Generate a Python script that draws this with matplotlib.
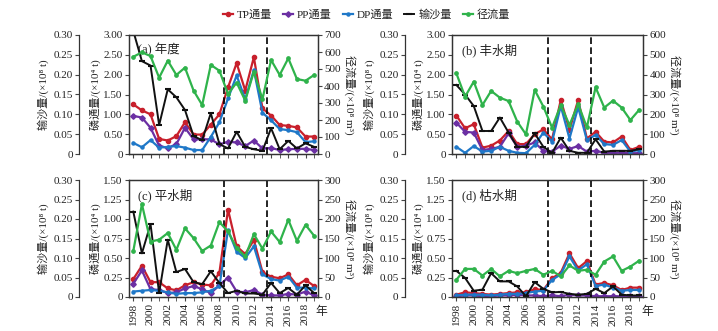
import numpy as np
import matplotlib.pyplot as plt
from matplotlib.ticker import MultipleLocator, FuncFormatter

plt.rcParams['font.family'] = ['Liberation Serif', 'Noto Sans CJK SC', 'DejaVu Serif']
plt.rcParams['axes.unicode_minus'] = False

years = np.arange(1998, 2020)

# 年度
tp_a = [1.25, 1.10, 1.00, 0.38, 0.34, 0.45, 0.80, 0.49, 0.49, 0.74, 1.00, 1.68, 2.29, 1.60, 2.44, 1.15, 0.97, 0.73, 0.71, 0.67, 0.44, 0.44]
pp_a = [0.96, 0.92, 0.66, 0.21, 0.15, 0.25, 0.66, 0.37, 0.37, 0.37, 0.24, 0.31, 0.29, 0.20, 0.34, 0.14, 0.15, 0.10, 0.12, 0.13, 0.13, 0.10]
dp_a = [0.28, 0.17, 0.35, 0.16, 0.18, 0.20, 0.16, 0.10, 0.10, 0.43, 0.80, 1.40, 1.98, 1.38, 2.12, 1.04, 0.85, 0.63, 0.60, 0.55, 0.30, 0.32]
sed_a = [0.310, 0.234, 0.223, 0.073, 0.163, 0.143, 0.111, 0.045, 0.035, 0.103, 0.025, 0.014, 0.056, 0.018, 0.012, 0.008, 0.065, 0.012, 0.033, 0.014, 0.027, 0.018]
q_a = [572, 598, 576, 449, 549, 465, 508, 373, 288, 524, 490, 353, 420, 314, 484, 322, 553, 465, 563, 441, 431, 465]

# 丰水期
tp_b = [0.97, 0.65, 0.75, 0.16, 0.21, 0.34, 0.58, 0.25, 0.25, 0.50, 0.62, 0.37, 1.36, 0.61, 1.36, 0.39, 0.56, 0.31, 0.29, 0.44, 0.10, 0.18]
pp_b = [0.79, 0.56, 0.54, 0.10, 0.13, 0.18, 0.52, 0.18, 0.21, 0.29, 0.08, 0.06, 0.21, 0.13, 0.20, 0.06, 0.08, 0.03, 0.03, 0.03, 0.02, 0.02]
dp_b = [0.18, 0.03, 0.20, 0.06, 0.08, 0.18, 0.08, 0.03, 0.02, 0.23, 0.54, 0.31, 1.21, 0.39, 1.18, 0.35, 0.48, 0.25, 0.23, 0.35, 0.06, 0.10]
sed_b = [0.174, 0.150, 0.121, 0.058, 0.058, 0.092, 0.054, 0.018, 0.018, 0.052, 0.018, 0.003, 0.041, 0.008, 0.003, 0.003, 0.037, 0.006, 0.008, 0.008, 0.008, 0.012]
q_b = [407, 289, 365, 247, 318, 284, 267, 163, 99, 323, 239, 133, 247, 146, 252, 134, 336, 234, 269, 234, 171, 222]

# 平水期
tp_c = [0.23, 0.40, 0.19, 0.19, 0.11, 0.085, 0.15, 0.19, 0.16, 0.15, 0.31, 1.12, 0.65, 0.55, 0.73, 0.32, 0.26, 0.24, 0.29, 0.15, 0.22, 0.14]
pp_c = [0.17, 0.34, 0.10, 0.09, 0.05, 0.06, 0.11, 0.14, 0.10, 0.05, 0.15, 0.25, 0.07, 0.06, 0.09, 0.03, 0.02, 0.02, 0.04, 0.03, 0.07, 0.02]
dp_c = [0.07, 0.08, 0.09, 0.08, 0.06, 0.04, 0.05, 0.05, 0.06, 0.08, 0.14, 0.86, 0.58, 0.50, 0.65, 0.29, 0.23, 0.21, 0.26, 0.12, 0.12, 0.11]
sed_c = [0.219, 0.112, 0.187, 0.010, 0.147, 0.064, 0.072, 0.038, 0.033, 0.066, 0.036, 0.010, 0.016, 0.009, 0.009, 0.006, 0.036, 0.010, 0.023, 0.006, 0.030, 0.010]
q_c = [118, 238, 142, 147, 164, 121, 176, 151, 118, 132, 192, 168, 125, 104, 161, 124, 168, 141, 198, 144, 185, 157]

# 枯水期
tp_d = [0.03, 0.06, 0.05, 0.04, 0.03, 0.04, 0.05, 0.06, 0.06, 0.10, 0.09, 0.24, 0.31, 0.56, 0.37, 0.46, 0.16, 0.18, 0.15, 0.09, 0.12, 0.12]
pp_d = [0.01, 0.02, 0.02, 0.01, 0.01, 0.02, 0.02, 0.03, 0.02, 0.02, 0.01, 0.02, 0.01, 0.03, 0.02, 0.02, 0.01, 0.01, 0.01, 0.01, 0.01, 0.01]
dp_d = [0.02, 0.03, 0.03, 0.03, 0.02, 0.03, 0.04, 0.04, 0.05, 0.07, 0.08, 0.22, 0.29, 0.52, 0.34, 0.42, 0.14, 0.16, 0.12, 0.08, 0.09, 0.09]
sed_d = [0.067, 0.049, 0.016, 0.019, 0.061, 0.040, 0.040, 0.027, 0.002, 0.038, 0.021, 0.012, 0.013, 0.008, 0.006, 0.008, 0.021, 0.010, 0.027, 0.006, 0.004, 0.004]
q_d = [44, 72, 72, 55, 72, 53, 67, 61, 67, 72, 57, 67, 53, 81, 67, 70, 57, 91, 104, 67, 78, 93]

titles = ['(a) 年度', '(b) 丰水期', '(c) 平水期', '(d) 枯水期']
breaks = [2008.5, 2013.5]

C_TP, C_PP, C_DP, C_SED, C_Q = '#c8202c', '#6b2fa3', '#1f78c8', '#111111', '#2fb34b'
TXT = '#222222'

fig = plt.figure(figsize=(7.18, 3.31), dpi=100)

W, H = 718, 331
boxes = [  # left, top, right, bottom in px, outer spine offset in pt
    (129, 35, 318, 154, 36),
    (452, 35, 643, 154, 34),
    (129, 180, 318, 297, 36),
    (452, 180, 643, 297, 34),
]
panels = [
    (tp_a, pp_a, dp_a, sed_a, q_a, 3.0, 0.5, 700, 100),
    (tp_b, pp_b, dp_b, sed_b, q_b, 3.0, 0.5, 600, 100),
    (tp_c, pp_c, dp_c, sed_c, q_c, 1.5, 0.25, 300, 50),
    (tp_d, pp_d, dp_d, sed_d, q_d, 1.5, 0.25, 300, 50),
]


def fmt2(v, pos):
    return '0' if abs(v) < 1e-9 else f'{v:.2f}'


def fmt0(v, pos):
    return f'{v:.0f}'


handles = None
for i, ((l, t, r, b, off), (tp, pp, dp, sed, q, pmax, pstep, qmax, qstep)) in enumerate(zip(boxes, panels)):
    ax = fig.add_axes([l / W, 1 - b / H, (r - l) / W, (b - t) / H])
    ax_s = ax.twinx()
    ax_q = ax.twinx()

    h1, = ax.plot(years, tp, color=C_TP, lw=1.6, marker='o', ms=3, label='TP通量')
    h2, = ax.plot(years, pp, color=C_PP, lw=1.6, marker='D', ms=2.8, label='PP通量')
    h3, = ax.plot(years, dp, color=C_DP, lw=1.6, marker='o', ms=2.2, label='DP通量')
    h4, = ax_s.plot(years, sed, color=C_SED, lw=1.4, marker='_', ms=4, mew=1.5, label='输沙量')
    h5, = ax_q.plot(years, q, color=C_Q, lw=1.6, marker='o', ms=2.4, label='径流量')
    handles = [h1, h2, h3, h4, h5]

    for x in breaks:
        ax.axvline(x, color='black', ls=(0, (4, 2)), lw=1.2, zorder=5)

    ax.set_xlim(1997.5, 2019.45)
    ax.set_ylim(0, pmax)
    ax.yaxis.set_major_locator(MultipleLocator(pstep))
    ax.yaxis.set_major_formatter(FuncFormatter(fmt2))
    ax.xaxis.set_minor_locator(MultipleLocator(1))
    ax.set_xticks(np.arange(1998, 2020, 2))
    if i >= 2:
        ax.set_xticklabels([str(y) for y in range(1998, 2020, 2)], rotation=90)
        ax.text(1.02, -0.13, '年', transform=ax.transAxes,
                ha='center', va='center', fontsize=8.5, color=TXT)
    else:
        ax.tick_params(axis='x', labelbottom=False)
    ax.tick_params(axis='both', which='both', direction='out', labelsize=8,
                   colors='#444444', labelcolor=TXT, pad=1.5)
    ax.tick_params(axis='both', which='major', length=3)
    ax.tick_params(axis='x', which='minor', length=3)
    ax.set_ylabel('磷通量/(×10⁴ t)', fontsize=8, color=TXT, labelpad=2)
    ax.text(0.05, 0.93, titles[i], transform=ax.transAxes, ha='left', va='top',
            fontsize=9, color=TXT)

    # sediment axis on an outer left spine
    ax_s.spines['left'].set_position(('outward', off))
    ax_s.spines['left'].set_visible(True)
    for s in ('right', 'top', 'bottom'):
        ax_s.spines[s].set_visible(False)
    ax_s.yaxis.set_ticks_position('left')
    ax_s.yaxis.set_label_position('left')
    ax_s.set_ylim(0, 0.30)
    ax_s.yaxis.set_major_locator(MultipleLocator(0.05))
    ax_s.yaxis.set_major_formatter(FuncFormatter(fmt2))
    ax_s.tick_params(axis='y', direction='out', length=3, labelsize=8,
                     colors='#444444', labelcolor=TXT, pad=1.5)
    ax_s.set_ylabel('输沙量/(×10⁸ t)', fontsize=8, color=TXT, labelpad=3)

    # runoff axis on the right
    ax_q.set_ylim(0, qmax)
    ax_q.yaxis.set_major_locator(MultipleLocator(qstep))
    ax_q.yaxis.set_major_formatter(FuncFormatter(fmt0))
    ax_q.tick_params(axis='y', direction='out', length=3, labelsize=8,
                     colors='#444444', labelcolor=TXT, pad=1.5)
    ax_q.set_ylabel('径流量/(×10⁸ m³)', fontsize=8, color=TXT, rotation=270,
                    va='bottom', labelpad=2)

    for a in (ax, ax_s, ax_q):
        for s in a.spines.values():
            s.set_color('#333333')
            s.set_linewidth(0.9)

fig.legend(handles=handles, labels=[h.get_label() for h in handles],
           loc='center', bbox_to_anchor=(0.51, 0.955), ncol=5, frameon=False,
           fontsize=8, handlelength=0.9, handletextpad=0.35, columnspacing=1.0,
           labelcolor=TXT)

fig.savefig('out.png', dpi=100)
